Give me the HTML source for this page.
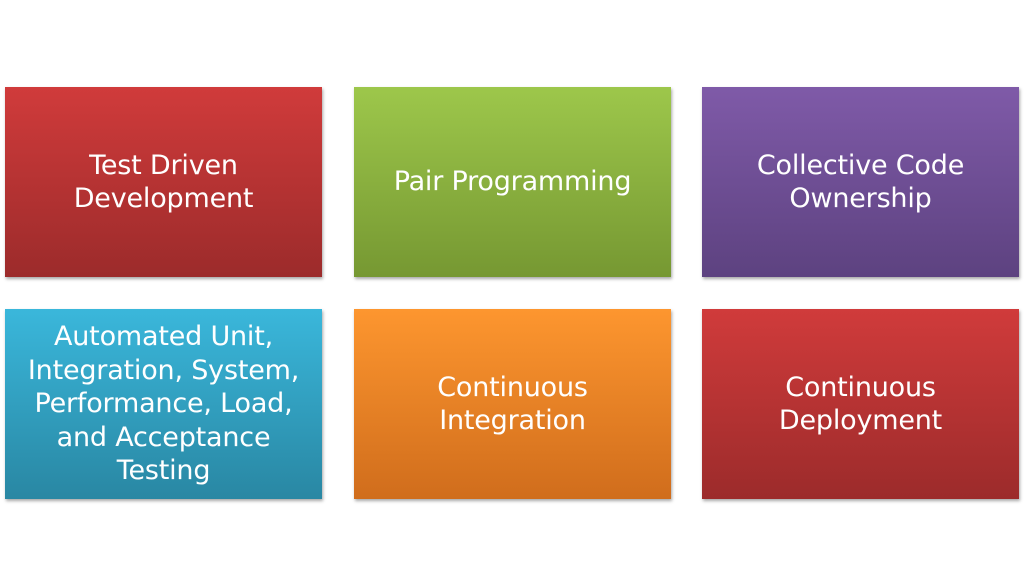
<!DOCTYPE html>
<html>
<head>
<meta charset="utf-8">
<style>
  html, body { margin:0; padding:0; }
  body { width:1024px; height:585px; background:#ffffff; position:relative; overflow:hidden;
         font-family:"DejaVu Sans","Liberation Sans",sans-serif; }
  .b { position:absolute; width:317px; height:190px; display:flex; align-items:center; justify-content:center;
       text-align:center; color:#ffffff; font-size:27px; line-height:33.5px;
       box-shadow:1px 2px 3px rgba(0,0,0,0.35); letter-spacing:-0.2px; }
  .red { background:linear-gradient(#d03b3b,#9c2b2b); }
  .green { background:linear-gradient(#9dc74b,#769832); }
  .purple { background:linear-gradient(#7f5aa8,#5d4280); }
  .blue { background:linear-gradient(#3ab7db,#2987a3); }
  .orange { background:linear-gradient(#fd962f,#d06d1c); }
</style>
</head>
<body>
  <div class="b red" style="left:5px;top:87px;">Test Driven<br>Development</div>
  <div class="b green" style="left:354px;top:87px;">Pair Programming</div>
  <div class="b purple" style="left:702px;top:87px;">Collective Code<br>Ownership</div>
  <div class="b blue" style="left:5px;top:309px;">Automated Unit,<br>Integration, System,<br>Performance, Load,<br>and Acceptance<br>Testing</div>
  <div class="b orange" style="left:354px;top:309px;">Continuous<br>Integration</div>
  <div class="b red" style="left:702px;top:309px;">Continuous<br>Deployment</div>
</body>
</html>
